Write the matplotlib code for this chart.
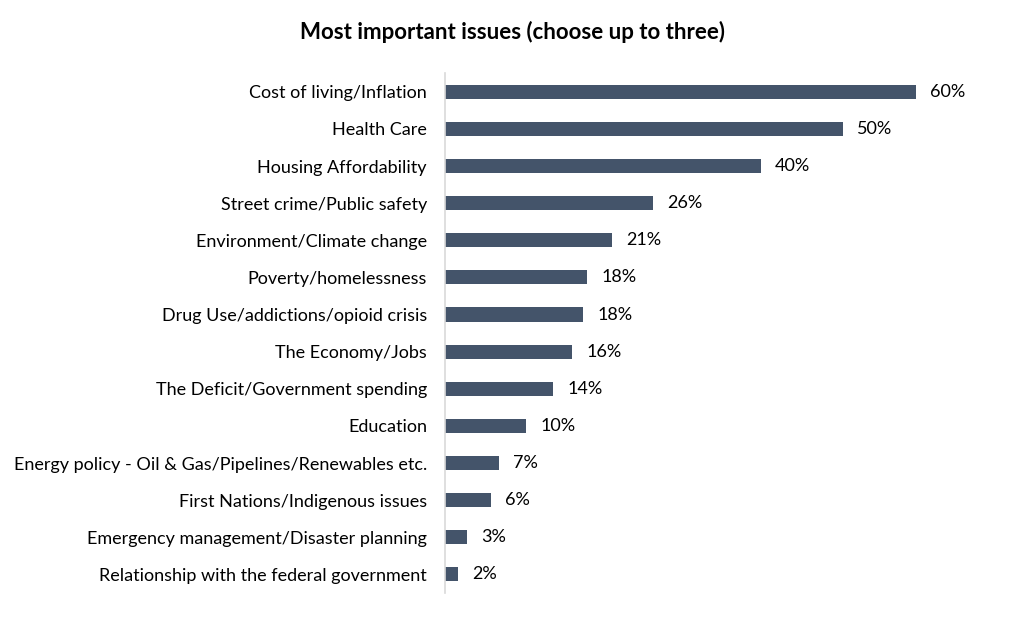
import matplotlib
matplotlib.use("Agg")
import matplotlib.pyplot as plt
import numpy as np

# data
issues = ['Cost of living/Inflation', 'Health Care', 'Housing Affordability',
          'Street crime/Public safety', 'Environment/Climate change',
          'Poverty/homelessness', 'Drug Use/addictions/opioid crisis',
          'The Economy/Jobs', 'The Deficit/Government spending', 'Education',
          'Energy policy - Oil & Gas/Pipelines/Renewables etc.',
          'First Nations/Indigenous issues',
          'Emergency management/Disaster planning',
          'Relationship with the federal government']
shares = [59.6, 50.4, 40.0, 26.4, 21.1, 18.0, 17.5, 16.1, 13.7, 10.3, 6.8, 5.8, 2.8, 1.6]
share_labels = ['60%', '50%', '40%', '26%', '21%', '18%', '18%', '16%', '14%',
                '10%', '7%', '6%', '3%', '2%']

plt.rcParams['font.family'] = ['Lato', 'DejaVu Sans']

fig = plt.figure(figsize=(10.24, 6.18), dpi=100)
ax = fig.add_axes([0.4346, 0.0405, 0.532, 0.841])

ypos = np.arange(len(issues))
ax.barh(ypos, shares, height=0.38, color='#44546A')
for y, v, lab in zip(ypos, shares, share_labels):
    ax.text(v + 1.8, y, lab, va='center', ha='left', fontsize=13, color='black')

ax.set_yticks(ypos)
ax.set_yticklabels(issues, fontsize=13)
ax.set_ylim(len(issues) - 0.5, -0.5)
ax.set_xlim(0, 69)
ax.set_xticks([])
ax.tick_params(axis='y', length=0, pad=13)
for s in ['top', 'right', 'bottom']:
    ax.spines[s].set_visible(False)
ax.spines['left'].set_color('#d9d9d9')
ax.spines['left'].set_linewidth(1.2)

fig.text(0.5, 0.948, 'Most important issues (choose up to three)', ha='center',
         va='center', fontsize=16, fontweight='bold')

fig.savefig('out.png', dpi=100)
